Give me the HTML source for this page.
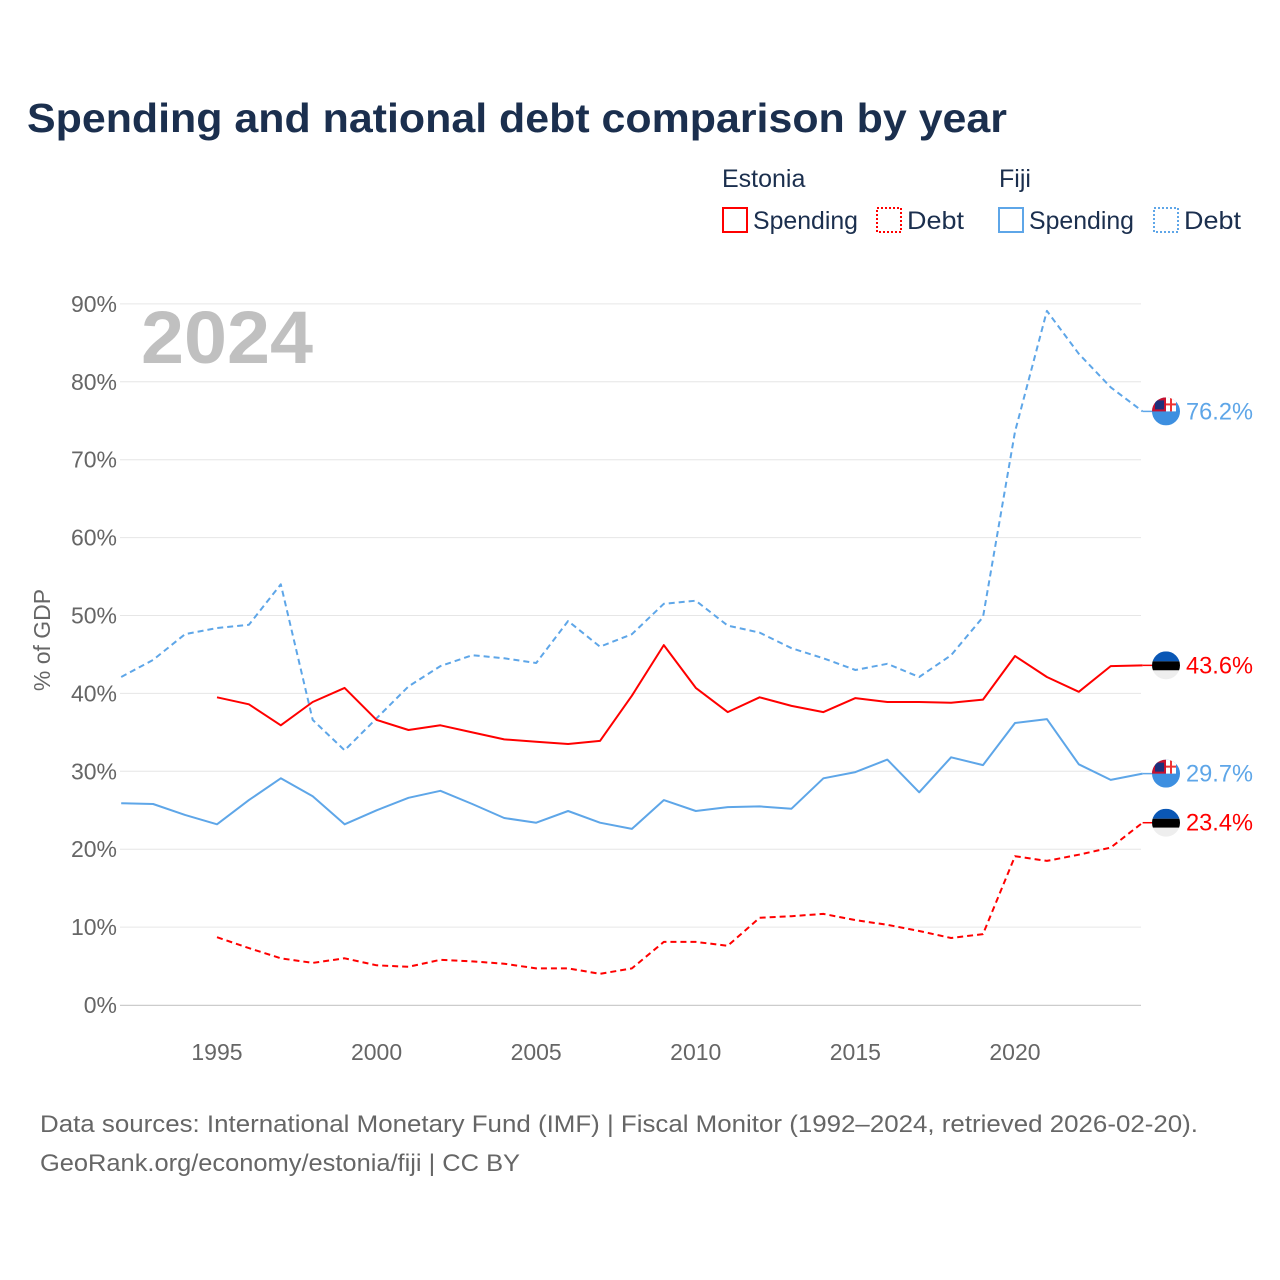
<!DOCTYPE html>
<html><head><meta charset="utf-8"><style>
html,body{margin:0;padding:0;background:#fff;}
svg{display:block;font-family:"Liberation Sans",sans-serif;}
</style></head><body>
<svg id="chart" width="1280" height="1280" viewBox="0 0 1280 1280" xmlns="http://www.w3.org/2000/svg">
<defs>
<clipPath id="c1"><circle cx="0" cy="0" r="14"/></clipPath>
</defs>
<text x="27" y="132" font-size="41" font-weight="bold" fill="#1b2f4e" textLength="980" lengthAdjust="spacingAndGlyphs">Spending and national debt comparison by year</text>
<g font-size="25" fill="#1b2f4e">
<text x="722" y="187" fill="#1b2f4e">Estonia</text>
<text x="999" y="187" fill="#1b2f4e">Fiji</text>
<g><rect x="723" y="208" width="24" height="24" fill="none" stroke="#ff0000" stroke-width="2"/><text x="753" y="229" fill="#1b2f4e" textLength="105" lengthAdjust="spacingAndGlyphs">Spending</text></g>
<g><rect x="877" y="208" width="24" height="24" fill="none" stroke="#ff0000" stroke-width="2" stroke-dasharray="2,2"/><text x="907" y="229" fill="#1b2f4e" textLength="57" lengthAdjust="spacingAndGlyphs">Debt</text></g>
<g><rect x="999" y="208" width="24" height="24" fill="none" stroke="#5ea6e8" stroke-width="2"/><text x="1029" y="229" fill="#1b2f4e" textLength="105" lengthAdjust="spacingAndGlyphs">Spending</text></g>
<g><rect x="1154" y="208" width="24" height="24" fill="none" stroke="#5ea6e8" stroke-width="2" stroke-dasharray="2,2"/><text x="1184" y="229" fill="#1b2f4e" textLength="57" lengthAdjust="spacingAndGlyphs">Debt</text></g>
</g>
<g id="grid"></g>
<text x="141" y="363" font-size="74" font-weight="bold" fill="#c0c0c0" textLength="172" lengthAdjust="spacingAndGlyphs">2024</text>
<text transform="translate(50,640) rotate(-90)" text-anchor="middle" font-size="23" fill="#666">% of GDP</text>
<g id="series"></g>
<g id="ends"></g>
<text x="40" y="1132" font-size="24" fill="#666" textLength="1158" lengthAdjust="spacingAndGlyphs">Data sources: International Monetary Fund (IMF) | Fiscal Monitor (1992–2024, retrieved 2026-02-20).</text>
<text x="40" y="1171" font-size="24" fill="#666" textLength="480" lengthAdjust="spacingAndGlyphs">GeoRank.org/economy/estonia/fiji | CC BY</text>
</svg>
<script>
const years = [];
for (let y = 1992; y <= 2024; y++) years.push(y);
const yTicks = [0,10,20,30,40,50,60,70,80,90];
const xTicks = [1995,2000,2005,2010,2015,2020];
const fijiDebt = [42.1,44.3,47.6,48.4,48.8,54.0,36.6,32.7,36.8,40.9,43.5,44.9,44.5,43.9,49.3,46.0,47.6,51.5,51.9,48.7,47.8,45.8,44.5,43.0,43.8,42.1,44.9,49.8,73.6,89.1,83.6,79.3,76.2];
const fijiSpending = [25.9,25.8,24.4,23.2,26.3,29.1,26.8,23.2,25.0,26.6,27.5,25.8,24.0,23.4,24.9,23.4,22.6,26.3,24.9,25.4,25.5,25.2,29.1,29.9,31.5,27.3,31.8,30.8,36.2,36.7,30.9,28.9,29.7];
const estSpending = [null,null,null,39.5,38.6,35.9,38.9,40.7,36.6,35.3,35.9,35.0,34.1,33.8,33.5,33.9,39.7,46.2,40.7,37.6,39.5,38.4,37.6,39.4,38.9,38.9,38.8,39.2,44.8,42.1,40.2,43.5,43.6];
const estDebt = [null,null,null,8.7,7.3,6.0,5.4,6.0,5.1,4.9,5.8,5.6,5.3,4.7,4.7,4.0,4.7,8.1,8.1,7.6,11.2,11.4,11.7,10.9,10.3,9.5,8.6,9.1,19.1,18.5,19.3,20.2,23.4];

const NS = "http://www.w3.org/2000/svg";
const X0 = 121.2, XS = 31.92, Y0 = 1005, YS = 7.79;
const xS = y => X0 + (y - 1992) * XS;
const yS = v => Y0 - v * YS;
function mk(tag, attrs, parent){ const e=document.createElementNS(NS,tag); for(const k in attrs) e.setAttribute(k,attrs[k]); parent.appendChild(e); return e; }

const grid = document.getElementById('grid');
yTicks.forEach(t => {
  const l = mk('line',{x1:120,x2:1141,y1:yS(t),y2:yS(t),stroke:'#e6e6e6','stroke-width':1},grid);
  
  
  const tx = mk('text',{x:117,y:yS(t)+8,'text-anchor':'end','font-size':23,fill:'#666'},grid);
  tx.textContent = t+'%';
  
  
});
mk('line',{x1:120,x2:1141,y1:Y0+0.5,y2:Y0+0.5,stroke:'#ccc','stroke-width':1},grid);
xTicks.forEach(t => {
  const tx = mk('text',{x:xS(t),y:1060,'text-anchor':'middle','font-size':23,fill:'#666'},grid);
  tx.textContent = t;
  
  
});

const sg = document.getElementById('series');
function line(data, color, dash, name){
  let d='';
  data.forEach((v,i)=>{ if(v==null) return; d += (d?'L':'M') + xS(years[i]).toFixed(1)+','+yS(v).toFixed(1); });
  const p = mk('path',{d:d,fill:'none',stroke:color,'stroke-width':2,'stroke-dasharray':dash||'none','stroke-linejoin':'round'},sg);
  
  
}
const BLUE='#5ea6e8', RED='#ff0000';
line(fijiDebt,BLUE,'6,4','fiji-debt-line');
line(fijiSpending,BLUE,null,'fiji-spending-line');
line(estSpending,RED,null,'estonia-spending-line');
line(estDebt,RED,'6,4','estonia-debt-line');

const eg = document.getElementById('ends');
function flag(cx,cy,country,g){
  const f = mk('g',{transform:`translate(${cx},${cy})`,'clip-path':'url(#c1)'},g);
  if(country==='fiji'){
    mk('rect',{x:-14,y:-14,width:28,height:28,fill:'#3d8fe0'},f);
    mk('rect',{x:-14,y:-14,width:14,height:14,fill:'#c8102e'},f);
    mk('rect',{x:-11,y:-11,width:9,height:9,fill:'#1d2f7a'},f);
    mk('rect',{x:0,y:-14,width:10,height:14,fill:'#fff'},f);
    mk('rect',{x:4,y:-14,width:2,height:14,fill:'#e33'},f);
    mk('rect',{x:0,y:-8,width:10,height:2,fill:'#e33'},f);
  } else {
    mk('rect',{x:-14,y:-14,width:28,height:10,fill:'#0a57b5'},f);
    mk('rect',{x:-14,y:-4,width:28,height:9,fill:'#000'},f);
    mk('rect',{x:-14,y:5,width:28,height:9,fill:'#eee'},f);
  }
}
function endLabel(data,color,country,name){
  const v = data[data.length-1];
  const g = mk('g',{},eg);
  
  
  const yy = yS(v);
  mk('line',{x1:xS(2024),y1:yy,x2:1152,y2:yy,stroke:color,'stroke-width':1.5},g);
  flag(1166,yy,country,g);
  const t = mk('text',{x:1186,y:yy+8,'font-size':24,fill:color,textLength:67,lengthAdjust:'spacingAndGlyphs'},g);
  t.textContent = v.toFixed(1)+'%';
}
endLabel(fijiDebt,BLUE,'fiji','end-label-fiji-debt');
endLabel(estSpending,RED,'estonia','end-label-estonia-spending');
endLabel(fijiSpending,BLUE,'fiji','end-label-fiji-spending');
endLabel(estDebt,RED,'estonia','end-label-estonia-debt');
</script>
</body></html>
